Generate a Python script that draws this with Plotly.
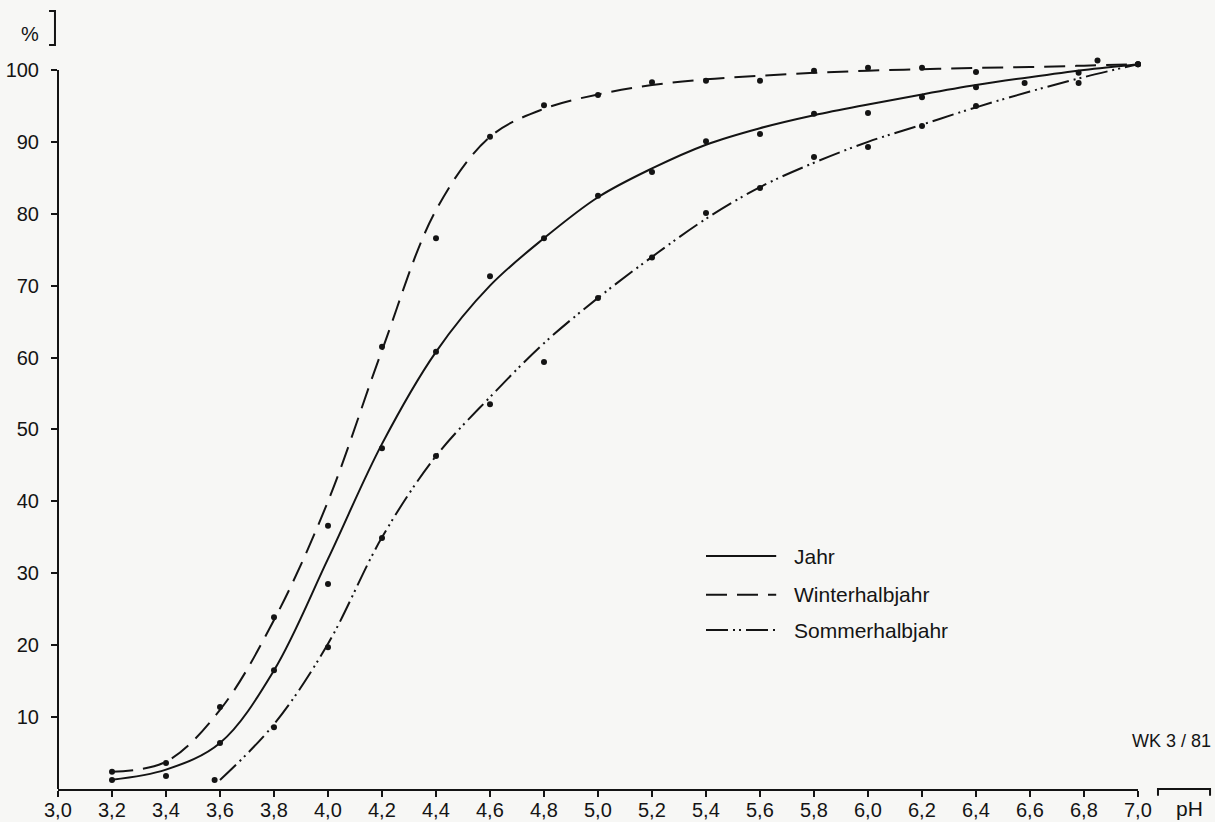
import plotly.graph_objects as go

# pH grid used for the smoothed curves
ph_grid = [3.2, 3.4, 3.6, 3.8, 4.0, 4.2, 4.4, 4.6, 4.8, 5.0,
           5.2, 5.4, 5.6, 5.8, 6.0, 6.2, 6.4, 6.6, 6.8, 7.0]
ph_grid_sommer = ph_grid[2:]

# Smoothed cumulative frequency curves (%)
jahr_curve = [1.3, 2.7, 6.4, 16.5, 32.0, 48.0, 60.8, 70.0, 76.6, 82.3,
              86.3, 89.6, 91.9, 93.7, 95.2, 96.6, 97.9, 99.0, 100.0, 100.8]
winter_curve = [2.4, 3.8, 11.0, 23.5, 40.0, 61.0, 80.5, 90.7, 94.6, 96.6,
                97.9, 98.7, 99.2, 99.6, 99.9, 100.1, 100.3, 100.4, 100.6, 100.8]
sommer_curve = [1.25, 9.0, 20.2, 35.0, 46.3, 54.5, 62.0, 68.3, 74.0, 79.3,
                83.7, 87.1, 90.0, 92.4, 94.8, 97.0, 99.0, 100.8]

# Measured values (dots)
jahr_x = [3.2, 3.4, 3.6, 3.8, 4.0, 4.2, 4.4, 4.6, 4.8, 5.0,
          5.2, 5.4, 5.6, 5.8, 6.0, 6.2, 6.4, 6.58, 6.78, 7.0]
jahr_y = [1.25, 1.8, 6.4, 16.5, 28.5, 47.4, 60.8, 71.3, 76.6, 82.5,
          85.8, 90.1, 91.1, 93.9, 94.0, 96.2, 97.6, 98.2, 99.6, 100.8]
winter_x = [3.2, 3.4, 3.6, 3.8, 4.0, 4.2, 4.4, 4.6, 4.8, 5.0,
            5.2, 5.4, 5.6, 5.8, 6.0, 6.2, 6.4, 6.85, 7.0]
winter_y = [2.4, 3.6, 11.4, 23.9, 36.6, 61.5, 76.6, 90.7, 95.1, 96.5,
            98.3, 98.5, 98.5, 99.9, 100.3, 100.3, 99.7, 101.3, 100.8]
sommer_x = [3.58, 3.8, 4.0, 4.2, 4.4, 4.6, 4.8, 5.0, 5.2, 5.4,
            5.6, 5.8, 6.0, 6.2, 6.4, 6.78, 7.0]
sommer_y = [1.25, 8.6, 19.7, 34.9, 46.3, 53.5, 59.4, 68.3, 73.9, 80.1,
            83.6, 87.9, 89.3, 92.2, 95.0, 98.2, 100.8]

x_ticks = [3.0, 3.2, 3.4, 3.6, 3.8, 4.0, 4.2, 4.4, 4.6, 4.8, 5.0,
           5.2, 5.4, 5.6, 5.8, 6.0, 6.2, 6.4, 6.6, 6.8, 7.0]
x_tick_text = ["3,0", "3,2", "3,4", "3,6", "3,8", "4,0", "4,2", "4,4", "4,6", "4,8", "5,0",
               "5,2", "5,4", "5,6", "5,8", "6,0", "6,2", "6,4", "6,6", "6,8", "7,0"]
y_ticks = [10, 20, 30, 40, 50, 60, 70, 80, 90, 100]

series_names = ["Jahr", "Winterhalbjahr", "Sommerhalbjahr"]

INK = "#141414"
BG = "#f7f7f5"
FONT = "Liberation Sans, Arial, Helvetica, sans-serif"
DASH_WINTER = "21px,10px"
DASH_SOMMER = "22px,5px,2px,4px,2px,5px"
styles = ["solid", DASH_WINTER, DASH_SOMMER]

fig = go.Figure()

curves = [(ph_grid, jahr_curve), (ph_grid, winter_curve), (ph_grid_sommer, sommer_curve)]
for (xs, ys), dash, name in zip(curves, styles, series_names):
    fig.add_trace(go.Scatter(
        x=xs, y=ys, mode="lines", name=name,
        line=dict(color=INK, width=2, dash=dash, shape="spline", smoothing=1.0),
        cliponaxis=False, hoverinfo="skip",
    ))

dots = [(jahr_x, jahr_y), (winter_x, winter_y), (sommer_x, sommer_y)]
for (xs, ys), name in zip(dots, series_names):
    fig.add_trace(go.Scatter(
        x=xs, y=ys, mode="markers", name=name,
        marker=dict(color=INK, size=6), cliponaxis=False,
    ))

shapes = []
# y axis line from 0 to 100 %
shapes.append(dict(type="line", xref="paper", yref="y", x0=0, x1=0, y0=0, y1=100,
                   line=dict(color=INK, width=2)))
# bracket beside the % unit label
shapes.append(dict(type="path", xref="paper", yref="paper",
                   path="M -0.0083,1.0305 L -0.0028,1.0305 L -0.0028,0.9854 L -0.0083,0.9854",
                   line=dict(color=INK, width=2)))
# bracket above the pH unit label
shapes.append(dict(type="path", xref="paper", yref="paper",
                   path="M 1.0185,-0.009 L 1.0185,0.0 L 1.0667,0.0 L 1.0667,-0.009",
                   line=dict(color=INK, width=2)))

# legend samples in data coordinates
legend_y = [32.4, 27.0, 22.1]
legend_x0, legend_x1, legend_text_x = 5.40, 5.66, 5.72
for yv, dash, name in zip(legend_y, styles, series_names):
    shapes.append(dict(type="line", xref="x", yref="y", x0=legend_x0, x1=legend_x1,
                       y0=yv, y1=yv, line=dict(color=INK, width=2, dash=dash)))
    fig.add_annotation(x=legend_text_x, y=yv, xref="x", yref="y", text=name,
                       showarrow=False, xanchor="left", yanchor="middle",
                       font=dict(size=21, color=INK, family=FONT))

# x tick labels placed just below the axis
for xv, label in zip(x_ticks, x_tick_text):
    fig.add_annotation(x=xv, y=0, xref="x", yref="paper", text=label,
                       showarrow=False, xanchor="center", yanchor="middle",
                       yshift=-21, borderpad=0,
                       font=dict(size=20, color=INK, family=FONT))

fig.add_annotation(x=0.0, y=1.0, xref="paper", yref="paper", text="%",
                   showarrow=False, xanchor="center", yanchor="middle",
                   xshift=-28, yshift=-2 + (789 - 32) - 755,
                   font=dict(size=20, color=INK, family=FONT))
fig.add_annotation(x=1.0, y=0.0, xref="paper", yref="paper", text="WK 3 / 81",
                   showarrow=False, xanchor="right", yanchor="middle",
                   xshift=1213 - 1138, yshift=789 - 741,
                   font=dict(size=18, color=INK, family=FONT))
fig.add_annotation(x=1.0, y=0.0, xref="paper", yref="paper", text="pH",
                   showarrow=False, xanchor="center", yanchor="middle",
                   xshift=1189 - 1138, yshift=-19, borderpad=0,
                   font=dict(size=21, color=INK, family=FONT))

fig.update_layout(
    width=1215, height=822,
    margin=dict(l=58, r=77, t=34, b=33, autoexpand=False),
    paper_bgcolor=BG, plot_bgcolor=BG,
    showlegend=False,
    shapes=shapes,
    font=dict(family=FONT, color=INK),
    xaxis=dict(range=[3.0, 7.0], tickvals=x_ticks, showticklabels=False,
               automargin=False,
               showgrid=False, zeroline=False, showline=True, linecolor=INK, linewidth=2,
               ticks="outside", ticklen=6, tickwidth=2, tickcolor=INK),
    yaxis=dict(range=[0, 105], tickvals=y_ticks, ticktext=[str(v) for v in y_ticks],
               automargin=False,
               showgrid=False, zeroline=False, showline=False,
               ticks="outside", ticklen=6, tickwidth=2, tickcolor=INK,
               ticklabelstandoff=8,
               tickfont=dict(size=20, color=INK, family=FONT)),
)

fig.write_html("out.html")
